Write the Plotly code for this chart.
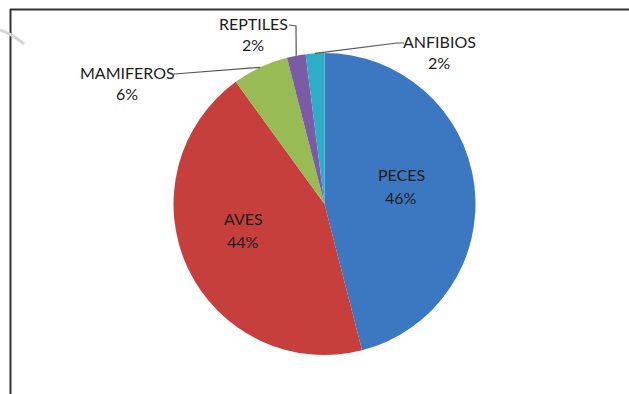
import math
import plotly.graph_objects as go

# Share of species by group
groups = ["PECES", "AVES", "MAMIFEROS", "REPTILES", "ANFIBIOS"]
shares = [46, 44, 6, 2, 2]
colors = ["#3b78c1", "#c63f3d", "#98bb55", "#7c5ba6", "#2eadc8"]

W, H = 629, 394
FONT = "Lato"
TEXT_COLOR = "#1c1c1c"

# Pie placement in pixels (centre and radius)
CX, CY, R = 324.5, 204.0, 151.0

# Label placement in pixels: (x, y of first line, y of second line)
label_pos = {
    "PECES": (401, 175, 198),
    "AVES": (243, 219, 242),
    "MAMIFEROS": (127, 72, 93),
    "REPTILES": (253, 23, 45),
    "ANFIBIOS": (439, 42, 63),
}
# Leader line start points near the outside labels
leader_start = {
    "MAMIFEROS": [(174, 74)],
    "REPTILES": [(289, 25), (296, 26)],
    "ANFIBIOS": [(404, 43), (397, 43)],
}


def px(x):
    return x / W


def py(y):
    return 1 - y / H


fig = go.Figure(
    go.Pie(
        labels=groups,
        values=shares,
        sort=False,
        direction="clockwise",
        rotation=0,
        marker=dict(colors=colors, line=dict(width=0)),
        textinfo="none",
        hoverinfo="label+percent",
        showlegend=False,
        domain=dict(x=[px(CX - R), px(CX + R)], y=[py(CY + R), py(CY - R)]),
    )
)

annotations = []
shapes = []
total = sum(shares)
cum = 0.0
for name, val in zip(groups, shares):
    pct = round(100 * val / total)
    x, y1, y2 = label_pos[name]
    for txt, yy in ((name, y1), (f"{pct}%", y2)):
        annotations.append(
            dict(
                x=px(x), y=py(yy), xref="paper", yref="paper",
                text=txt, showarrow=False, xanchor="center", yanchor="middle",
                font=dict(family=FONT, size=16, color=TEXT_COLOR),
            )
        )
    # leader line to the slice's mid-angle on the rim
    mid = (cum + val / 2) / total * 2 * math.pi
    cum += val
    if name in leader_start:
        ax = CX + R * math.sin(mid)
        ay = CY - R * math.cos(mid)
        pts = leader_start[name] + [(ax, ay)]
        path = "M " + " L ".join(f"{px(a):.5f},{py(b):.5f}" for a, b in pts)
        shapes.append(
            dict(type="path", path=path, xref="paper", yref="paper",
                 line=dict(color="#555555", width=1.2))
        )

# Chart frame (top and left edges)
shapes.append(dict(type="line", xref="paper", yref="paper",
                   x0=px(10), y0=py(9.5), x1=1.0, y1=py(9.5),
                   line=dict(color="#333333", width=2)))
shapes.append(dict(type="line", xref="paper", yref="paper",
                   x0=px(10.5), y0=py(9), x1=px(10.5), y1=0.0,
                   line=dict(color="#333333", width=2)))
# faint mark in the upper-left corner
shapes.append(dict(type="path", xref="paper", yref="paper",
                   path=f"M {px(0)},{py(30)} Q {px(12)},{py(34)} {px(24)},{py(44)}",
                   line=dict(color="#d6d6d6", width=3)))

fig.update_layout(
    width=W, height=H,
    margin=dict(l=0, r=0, t=0, b=0),
    paper_bgcolor="white",
    plot_bgcolor="white",
    annotations=annotations,
    shapes=shapes,
)

fig.write_html("out.html")
